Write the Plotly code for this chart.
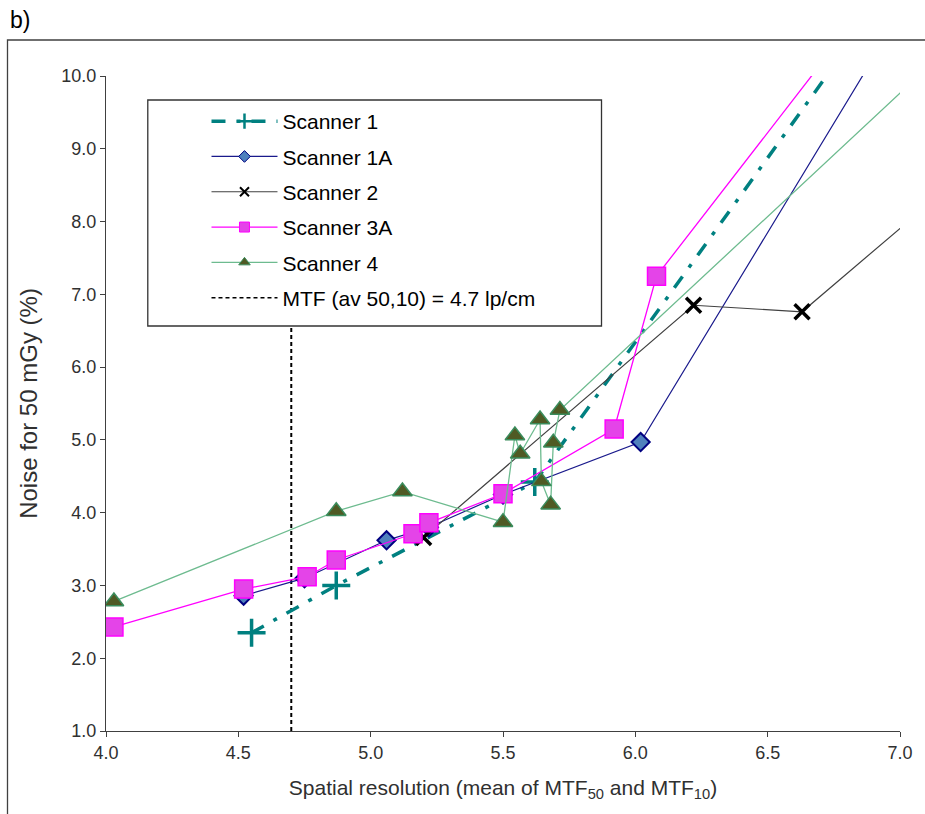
import plotly.graph_objects as go

# ---- data ----
s1_x = [4.55, 4.87, 5.62, 6.90]
s1_y = [2.35, 3.00, 4.42, 10.90]

s1a_x = [4.52, 4.75, 5.06, 5.22, 5.50, 6.02, 6.95]
s1a_y = [2.86, 3.10, 3.62, 3.80, 4.25, 4.97, 10.55]

s2_x = [5.20, 6.22, 6.63, 7.25]
s2_y = [3.66, 6.85, 6.76, 8.68]

s3a_x = [4.03, 4.52, 4.76, 4.87, 5.16, 5.22, 5.50, 5.92, 6.08, 6.90]
s3a_y = [2.43, 2.95, 3.12, 3.35, 3.71, 3.86, 4.26, 5.15, 7.25, 11.10]

s4_x = [4.03, 4.87, 5.12, 5.50, 5.545, 5.565, 5.64, 5.645, 5.68, 5.69, 5.715, 7.30]
s4_y = [2.78, 4.02, 4.29, 3.87, 5.06, 4.81, 5.28, 4.43, 4.11, 4.96, 5.41, 10.78]

mtf_x = [4.7, 4.7]
mtf_y = [1.0, 6.6]

names = ["Scanner 1", "Scanner 1A", "Scanner 2", "Scanner 3A", "Scanner 4",
         "MTF (av 50,10) = 4.7 lp/cm"]

x_ticks = [4.0, 4.5, 5.0, 5.5, 6.0, 6.5, 7.0]
y_ticks = [1.0, 2.0, 3.0, 4.0, 5.0, 6.0, 7.0, 8.0, 9.0, 10.0]

# ---- styles ----
TEAL = "#008080"
NAVY = "#1a1a8c"
MAG = "#ff00ff"
GREEN = "#6dbb8f"
AX = "#303030"
FONT = "Liberation Sans, Arial, sans-serif"
S1_DASH = "14px,11px,4px,11px"

styles = [
    dict(line=dict(color=TEAL, width=3.5, dash=S1_DASH),
         marker=dict(symbol="cross-thin", size=20, color=TEAL, line=dict(color=TEAL, width=3.5)),
         leg_marker=dict(symbol="cross-thin", size=11, color=TEAL, line=dict(color=TEAL, width=2.5))),
    dict(line=dict(color=NAVY, width=1.2),
         marker=dict(symbol="diamond", size=14, color="#4f81bd", line=dict(color="#000080", width=2)),
         leg_marker=dict(symbol="diamond", size=9, color="#4f81bd", line=dict(color="#000080", width=1))),
    dict(line=dict(color="#404040", width=1.2),
         marker=dict(symbol="x-thin", size=15, color="black", line=dict(color="black", width=3.5)),
         leg_marker=dict(symbol="x-thin", size=9, color="black", line=dict(color="black", width=2))),
    dict(line=dict(color=MAG, width=1.3),
         marker=dict(symbol="square", size=18, color="#e444e8", line=dict(color=MAG, width=1.5)),
         leg_marker=dict(symbol="square", size=10, color="#e444e8", line=dict(color=MAG, width=1))),
    dict(line=dict(color=GREEN, width=1.3),
         marker=dict(symbol="triangle-up", size=17, color="#4f5a24", line=dict(color="#3a8c5c", width=1.5)),
         leg_marker=dict(symbol="triangle-up", size=10, color="#4f5a24", line=dict(color="#3a8c5c", width=1))),
]

series = [(s1_x, s1_y), (s1a_x, s1a_y), (s2_x, s2_y), (s3a_x, s3a_y), (s4_x, s4_y)]

fig = go.Figure()

# MTF line
fig.add_trace(go.Scatter(x=mtf_x, y=mtf_y, mode="lines",
                         line=dict(color="black", width=2, dash="4px,3px"),
                         showlegend=False, hoverinfo="skip"))

for (xs, ys), st, nm in zip(series, styles, names):
    fig.add_trace(go.Scatter(x=xs, y=ys, mode="lines+markers", name=nm,
                             line=st["line"], marker=st["marker"], showlegend=False))

# legend-only entries (smaller markers)
for i, (st, nm) in enumerate(zip(styles, names)):
    fig.add_trace(go.Scatter(x=[None], y=[None], mode="lines+markers", name=nm,
                             line=st["line"], marker=st["leg_marker"],
                             legendgroup="g%d" % i, showlegend=True))
fig.add_trace(go.Scatter(x=[None], y=[None], mode="lines", name=names[5],
                         line=dict(color="black", width=1.5, dash="4px,3px"),
                         legendgroup="g5", showlegend=True))

W, H = 925, 814
ML, MR, MT, MB = 106, 21, 76, 83
pw, ph = W - ML - MR, H - MT - MB

def px(xp):
    return (xp - ML) / pw

def py(yp):
    return (H - MB - yp) / ph

fig.update_layout(
    width=W, height=H,
    margin=dict(l=ML, r=MR, t=MT, b=MB),
    paper_bgcolor="white", plot_bgcolor="white",
    font=dict(family=FONT, color=AX, size=18),
    showlegend=True,
    legend=dict(x=px(207), y=py(101), xanchor="left", yanchor="top",
                bgcolor="rgba(0,0,0,0)", borderwidth=0,
                font=dict(size=21, color="black", family=FONT),
                itemwidth=66, tracegroupgap=5, itemclick=False, itemdoubleclick=False),
    xaxis=dict(range=[4.0, 7.0], tickvals=x_ticks, ticktext=["%.1f" % v for v in x_ticks],
               showgrid=False, zeroline=False, showline=True, linecolor="#404040", linewidth=1.3,
               ticks="outside", ticklen=5, tickcolor="#404040", tickwidth=1.3,
               tickfont=dict(size=18, color=AX),
               title=dict(text="Spatial resolution (mean of MTF<sub>50</sub> and MTF<sub>10</sub>)",
                          font=dict(size=21, color=AX), standoff=18)),
    yaxis=dict(range=[1.0, 10.0], tickvals=y_ticks, ticktext=["%.1f" % v for v in y_ticks],
               showgrid=False, zeroline=False, showline=True, linecolor="#404040", linewidth=1.3,
               ticks="outside", ticklen=5, tickcolor="#404040", tickwidth=1.3,
               tickfont=dict(size=18, color=AX),
               title=dict(text="Noise for 50 mGy (%)", font=dict(size=24, color=AX), standoff=16)),
    shapes=[
        # outer frame
        dict(type="rect", xref="paper", yref="paper", x0=px(7), x1=px(940), y0=py(830), y1=py(40),
             line=dict(color="#404040", width=1.3), fillcolor="rgba(0,0,0,0)", layer="below"),
        # legend box
        dict(type="rect", xref="paper", yref="paper", x0=px(148), x1=px(604), y0=py(326), y1=py(100),
             line=dict(color="#333333", width=1.3), fillcolor="white", layer="above"),
    ],
    annotations=[
        dict(text="b)", xref="paper", yref="paper", x=px(8), y=py(5), xanchor="left", yanchor="top",
             showarrow=False, font=dict(size=23, color="black", family=FONT)),
    ],
)

fig.write_html("out.html")
